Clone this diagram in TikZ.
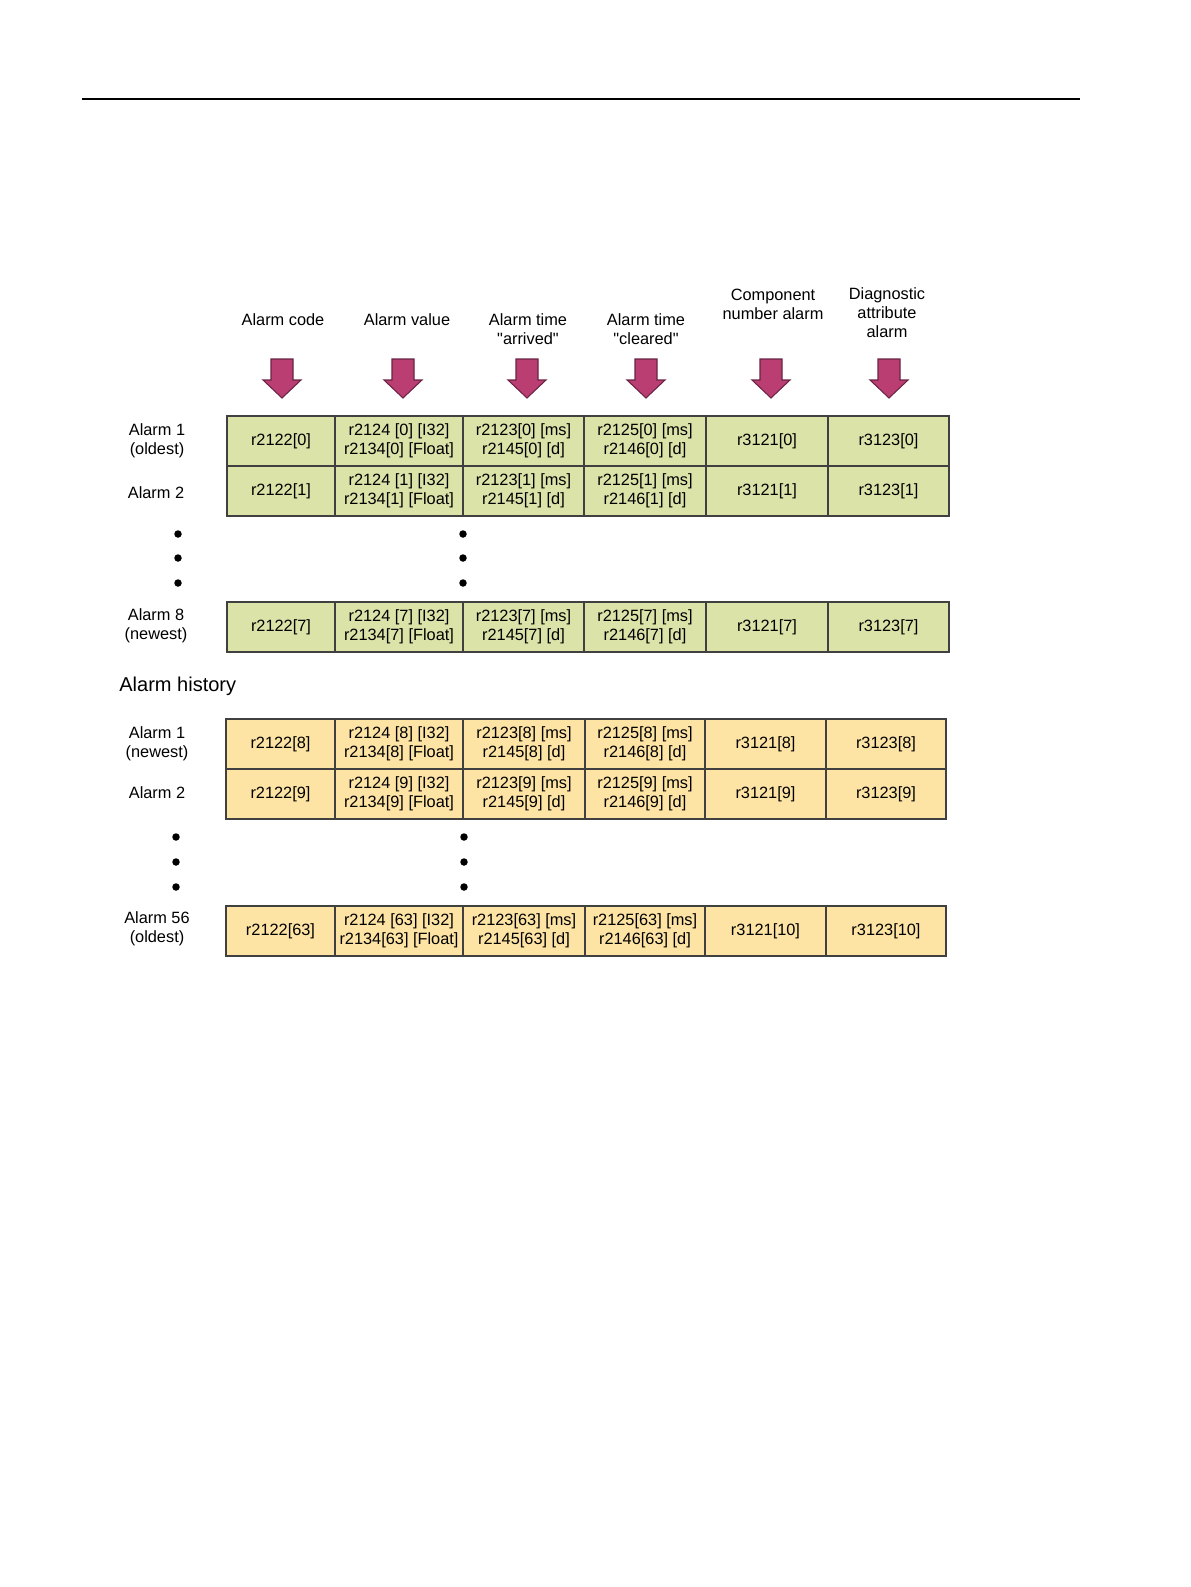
\documentclass[tikz,border=0pt]{standalone}
\usepackage{fontspec}
\setmainfont{Liberation Sans}[Ligatures=TeXOff]
\usepackage{xcolor}
\definecolor{alarmgreen}{RGB}{219,227,168}
\definecolor{histyellow}{RGB}{254,228,164}
\definecolor{arrowpink}{RGB}{187,62,114}
\definecolor{arrowedge}{RGB}{105,35,68}

\newcommand{\cellfont}{\fontsize{9.3}{10.8}\selectfont}
\newcommand{\histfont}{\fontsize{11.4}{13}\selectfont}

\tikzset{
  cell/.style={draw=black!75, line width=0.8pt, inner sep=0pt, outer sep=0pt,
    minimum height=1cm, align=center, font=\cellfont},
  rowlabel/.style={align=center, font=\cellfont, inner sep=1pt},
  headlabel/.style={align=center, font=\cellfont, inner sep=1pt},
  dot/.style={circle, fill=black, inner sep=0pt, minimum size=0.15cm},
  downarrow/.pic={
    \draw[fill=arrowpink, draw=arrowedge, line width=0.6pt, line join=miter]
      (-11,0) -- (11,0) -- (11,21) -- (19,21) -- (0,39) -- (-19,21) -- (-11,21) -- cycle;
  }
}

\begin{document}
\begin{tikzpicture}[x=0.02cm, y=-0.02cm]
  \useasboundingbox (0,0) rectangle (1191,1587);

  % Page rule
  \draw[line width=1.1pt] (82,99) -- (1080,99);

  % Column headings
  \node[headlabel] (hcode) at (283,320) {Alarm code};
  \node[headlabel] (hvalue) at (407,320) {Alarm value};
  \node[headlabel] (harrived) at (528,329) {Alarm time\\"arrived"};
  \node[headlabel] (hcleared) at (646,329) {Alarm time\\"cleared"};
  \node[headlabel] (hcomp) at (773,304) {Component\\number alarm};
  \node[headlabel] (hdiag) at (887,313) {Diagnostic\\attribute\\alarm};

  % Arrows
  \foreach \x in {282, 403, 527, 646, 771, 889}
    \pic at (\x,359) {downarrow};

  % Alarm buffer (current alarms)
  \foreach \r/\i/\y in {cur0/0/441, cur1/1/491, cur7/7/627} {
    \node[cell, fill=alarmgreen, minimum width=108*0.02cm] (\r-1) at (281,\y) {r2122[\i]};
    \node[cell, fill=alarmgreen, minimum width=128*0.02cm] (\r-2) at (399,\y) {r2124 [\i] [I32]\\r2134[\i] [Float]};
    \node[cell, fill=alarmgreen, minimum width=121*0.02cm] (\r-3) at (523.5,\y) {r2123[\i] [ms]\\r2145[\i] [d]};
    \node[cell, fill=alarmgreen, minimum width=122*0.02cm] (\r-4) at (645,\y) {r2125[\i] [ms]\\r2146[\i] [d]};
    \node[cell, fill=alarmgreen, minimum width=122*0.02cm] (\r-5) at (767,\y) {r3121[\i]};
    \node[cell, fill=alarmgreen, minimum width=121*0.02cm] (\r-6) at (888.5,\y) {r3123[\i]};
  }

  \node[rowlabel] (lcur0) at (157,441) {Alarm 1\\(oldest)};
  \node[rowlabel] (lcur1) at (156,493) {Alarm 2};
  \node[rowlabel] (lcur7) at (156,626) {Alarm 8\\(newest)};

  % Dots
  \foreach \y [count=\n] in {534, 558, 583} {
    \node[dot] (cdl\n) at (178,\y) {};
    \node[dot] (cdm\n) at (463,\y) {};
  }

  % Alarm history
  \node[anchor=west, font=\histfont, inner sep=0pt] (histtitle) at (119,686) {Alarm history};

  \foreach \r/\i/\j/\y in {hist8/8/8/744, hist9/9/9/794, hist63/63/10/931} {
    \node[cell, fill=histyellow, minimum width=109*0.02cm] (\r-1) at (280.5,\y) {r2122[\i]};
    \node[cell, fill=histyellow, minimum width=128*0.02cm] (\r-2) at (399,\y) {r2124 [\i] [I32]\\r2134[\i] [Float]};
    \node[cell, fill=histyellow, minimum width=122*0.02cm] (\r-3) at (524,\y) {r2123[\i] [ms]\\r2145[\i] [d]};
    \node[cell, fill=histyellow, minimum width=120*0.02cm] (\r-4) at (645,\y) {r2125[\i] [ms]\\r2146[\i] [d]};
    \node[cell, fill=histyellow, minimum width=121*0.02cm] (\r-5) at (765.5,\y) {r3121[\j]};
    \node[cell, fill=histyellow, minimum width=120*0.02cm] (\r-6) at (886,\y) {r3123[\j]};
  }

  \node[rowlabel] (lhist8) at (157,744) {Alarm 1\\(newest)};
  \node[rowlabel] (lhist9) at (157,793) {Alarm 2};
  \node[rowlabel] (lhist63) at (157,929) {Alarm 56\\(oldest)};

  \foreach \y [count=\n] in {837, 862, 887} {
    \node[dot] (hdl\n) at (176,\y) {};
    \node[dot] (hdm\n) at (464,\y) {};
  }
\end{tikzpicture}
\end{document}
